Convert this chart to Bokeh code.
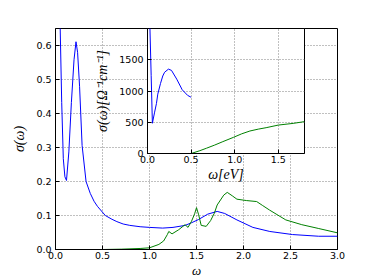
from bokeh.plotting import figure
from bokeh.models import FixedTicker, NumeralTickFormatter, Range1d
from bokeh.layouts import column
from bokeh.embed import file_html
from bokeh.resources import INLINE

# ---------------- data ----------------
# main panel, blue curve
main_blue_x = [0.03, 0.05, 0.066, 0.083, 0.10, 0.117, 0.142, 0.169, 0.197, 0.218, 0.235,
               0.256, 0.283, 0.325, 0.37, 0.41, 0.446, 0.53, 0.6, 0.653, 0.72, 0.79, 0.9,
               1.0, 1.14, 1.25, 1.38, 1.45, 1.52, 1.62, 1.72, 1.8, 1.93, 2.1, 2.28, 2.52,
               2.8, 3.0]
main_blue_y = [0.95, 0.65, 0.432, 0.267, 0.214, 0.203, 0.287, 0.432, 0.558, 0.611, 0.58,
               0.48, 0.306, 0.2, 0.165, 0.142, 0.127, 0.1, 0.089, 0.082, 0.075, 0.071,
               0.067, 0.065, 0.063, 0.065, 0.071, 0.079, 0.088, 0.104, 0.112, 0.106,
               0.087, 0.065, 0.053, 0.044, 0.039, 0.039]
# main panel, green curve
main_green_x = [0.5, 0.7, 0.9, 1.0, 1.1, 1.15, 1.19, 1.205, 1.24, 1.31, 1.378, 1.41, 1.447,
                1.48, 1.5, 1.523, 1.55, 1.603, 1.65, 1.69, 1.72, 1.79, 1.827, 1.88, 1.93,
                2.03, 2.14, 2.2, 2.277, 2.45, 2.62, 2.795, 3.0]
main_green_y = [0.0, 0.001, 0.003, 0.005, 0.015, 0.025, 0.044, 0.053, 0.046, 0.058, 0.073,
                0.065, 0.083, 0.105, 0.123, 0.102, 0.071, 0.068, 0.085, 0.107, 0.131, 0.16,
                0.168, 0.158, 0.148, 0.144, 0.141, 0.13, 0.116, 0.087, 0.073, 0.062, 0.049]
# inset, blue curve
inset_blue_x = [0.022, 0.028, 0.042, 0.056, 0.08, 0.1025, 0.118, 0.149, 0.175, 0.196, 0.24,
                0.275, 0.335, 0.398, 0.46, 0.5]
inset_blue_y = [2400, 2000, 1250, 484, 650, 800, 950, 1120, 1240, 1300, 1350, 1330, 1190,
                1020, 930, 900]
# inset, green curve
inset_green_x = [0.5, 0.6, 0.677, 0.77, 0.864, 0.988, 1.08, 1.174, 1.27, 1.36, 1.5, 1.67, 1.8]
inset_green_y = [0, 45, 85, 135, 190, 260, 315, 360, 390, 413, 455, 482, 510]

main_xticks = [0.0, 0.5, 1.0, 1.5, 2.0, 2.5, 3.0]
main_yticks = [0.0, 0.1, 0.2, 0.3, 0.4, 0.5, 0.6]
inset_xticks = [0.0, 0.5, 1.0, 1.5]
inset_yticks = [0, 500, 1000, 1500]

main_xlabel = "ω"
main_ylabel = "σ(ω)"
inset_xlabel = "ω[eV]"
inset_ylabel = "σ(ω)[Ω⁻¹cm⁻¹]"

BLUE = "#0000ff"
GREEN = "#008000"
TICK_FONT = "DejaVu Sans"
MATH_FONT = "Liberation Serif"


def style_axes(fig, xfmt, yfmt, xt, yt):
    for ax in (fig.xaxis[0], fig.yaxis[0]):
        ax.major_tick_in = 4
        ax.major_tick_out = 0
        ax.minor_tick_in = 0
        ax.minor_tick_out = 0
        ax.axis_line_color = "black"
        ax.major_tick_line_color = "black"
        ax.major_label_text_font = TICK_FONT
        ax.major_label_text_font_size = "9.5px"
        ax.major_label_text_color = "black"
        ax.axis_label_text_font = MATH_FONT
        ax.axis_label_text_font_style = "italic"
        ax.axis_label_text_font_size = "14px"
        ax.axis_label_text_color = "black"
    fig.xaxis[0].ticker = FixedTicker(ticks=xt)
    fig.yaxis[0].ticker = FixedTicker(ticks=yt)
    fig.xaxis[0].formatter = NumeralTickFormatter(format=xfmt)
    fig.yaxis[0].formatter = NumeralTickFormatter(format=yfmt)
    fig.xaxis[0].major_label_standoff = 2
    fig.xaxis[0].axis_label_standoff = 1
    fig.yaxis[0].major_label_standoff = 4
    fig.outline_line_color = "black"
    fig.outline_line_width = 1
    fig.outline_line_alpha = 1
    fig.grid.grid_line_color = "#808080"
    fig.grid.grid_line_dash = "1 2"
    fig.grid.grid_line_width = 1


p = figure(width=374, height=280, output_backend="svg", toolbar_location=None,
           x_range=Range1d(0, 3), y_range=Range1d(0, 0.65),
           min_border_left=47, min_border_right=37, min_border_top=28, min_border_bottom=24,
           x_axis_label=main_xlabel, y_axis_label=main_ylabel)
style_axes(p, "0.0", "0.0", main_xticks, main_yticks)
p.xaxis[0].axis_label_text_font_size = "13px"
p.yaxis[0].axis_label_standoff = 6
p.line(main_blue_x, main_blue_y, line_color=BLUE, line_width=1)
p.line(main_green_x, main_green_y, line_color=GREEN, line_width=1)

inset = figure(width=249, height=158, output_backend="svg", toolbar_location=None,
               x_range=Range1d(0, 1.8), y_range=Range1d(0, 2000),
               min_border_left=52, min_border_right=4, min_border_top=2, min_border_bottom=30,
               x_axis_label=inset_xlabel, y_axis_label=inset_ylabel,
               border_fill_color=None, background_fill_color="white",
               styles={"position": "absolute", "left": "92px", "top": "26px"})
style_axes(inset, "0.0", "0", inset_xticks, inset_yticks)
inset.yaxis[0].axis_label_standoff = 6
inset.line(inset_blue_x, inset_blue_y, line_color=BLUE, line_width=1)
inset.line(inset_green_x, inset_green_y, line_color=GREEN, line_width=1)

layout = column(p, inset)
open("out.html", "w").write(file_html(layout, INLINE))
